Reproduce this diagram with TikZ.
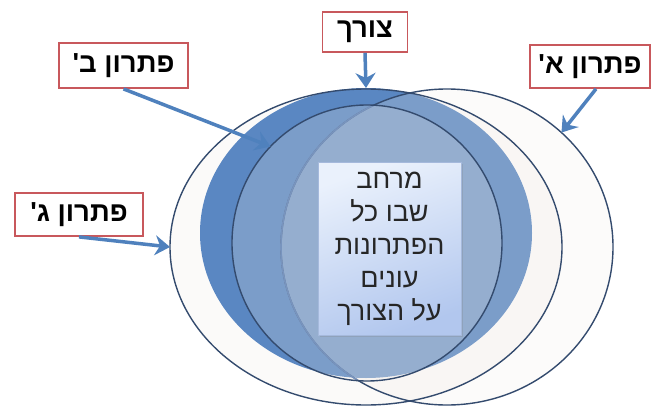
\documentclass[tikz,border=0pt]{standalone}
\usepackage{fontspec}
\newfontfamily\hebfont[Script=Hebrew,Ligatures=TeXOff]{Liberation Sans}
\TeXXeTstate=1
\usetikzlibrary{arrows.meta,shapes.geometric,shadows}

\definecolor{needblue}{RGB}{90,135,194}
\definecolor{veil}{RGB}{242,236,230}
\definecolor{paper}{RGB}{251,250,249}
\definecolor{rim}{RGB}{52,75,110}
\definecolor{softrim}{RGB}{120,148,190}
\definecolor{tagred}{RGB}{200,88,92}
\definecolor{pointblue}{RGB}{79,129,189}
\definecolor{boxtop}{RGB}{234,241,252}
\definecolor{boxbottom}{RGB}{178,199,238}
\definecolor{boxedge}{RGB}{165,185,220}

\begin{document}
\begin{tikzpicture}[
  x=1pt,
  y=-1pt,
  >=Stealth,
  oval/.style={ellipse,inner sep=0pt,outer sep=0pt},
  solution/.style={oval,draw=rim,line width=1.4pt,fill=veil,fill opacity=0.22},
  tag/.style={draw=tagred,line width=1.8pt,fill=white,inner sep=0pt,
    font=\hebfont\bfseries\fontsize{27.5}{30}\selectfont},
  pointer/.style={draw=pointblue,line width=3.5pt,
    -{Stealth[length=15pt,width=20pt,inset=5pt]}},
  spacebox/.style={draw=boxedge,line width=0.6pt,
    top color=boxtop,bottom color=boxbottom,shading angle=20,
    drop shadow={opacity=0.25,shadow xshift=2pt,shadow yshift=-2pt},
    minimum width=143pt,minimum height=173pt,align=center,text=black!85,
    font=\hebfont\fontsize{27}{33}\selectfont}
]
\useasboundingbox (0,0) rectangle (653,412);

% Solution C (back) and the need
\node[oval,fill=paper,minimum width=392pt,minimum height=316pt] (solC) at (366,247) {};
\node[oval,fill=needblue,minimum width=332pt,minimum height=290pt] (need) at (366,233) {};

% Solutions A and B
\node[solution,minimum width=332pt,minimum height=316pt] (solA) at (447,247) {};
\node[solution,minimum width=270pt,minimum height=276pt] (solB) at (367,243) {};
\draw[rim,line width=1.4pt] (solC.center) ellipse [x radius=196pt,y radius=158pt];

% softer edge of A inside B
\begin{scope}
  \clip (solB.center) ellipse [x radius=134pt,y radius=137pt];
  \draw[softrim,line width=1.6pt] (solA.center) ellipse [x radius=166pt,y radius=158pt];
\end{scope}

% Common space
\node[spacebox] (space) at (389.5,248.5)
  {\beginR מרחב\endR\\\beginR שבו כל\endR\\\beginR הפתרונות\endR\\\beginR עונים\endR\\\beginR על הצורך\endR};

% Labels
\node[tag,minimum width=85pt,minimum height=40pt] (needtag) at (365,32) {\beginR צורך\endR};
\node[tag,minimum width=120pt,minimum height=43pt] (tagA) at (590,66.5) {\beginR פתרון א'\endR};
\node[tag,minimum width=129pt,minimum height=45pt] (tagB) at (123.5,65.5) {\beginR פתרון ב'\endR};
\node[tag,minimum width=128pt,minimum height=43pt] (tagC) at (79,214.5) {\beginR פתרון ג'\endR};

% Pointers
\draw[pointer] (needtag.south) -- (need.north);
\draw[pointer] ([xshift=6pt]tagA.south) -- (solA.45);
\draw[pointer] (tagB.south) -- (solB.135);
\draw[pointer] (tagC.south) -- (solC.180);

\end{tikzpicture}
\end{document}
